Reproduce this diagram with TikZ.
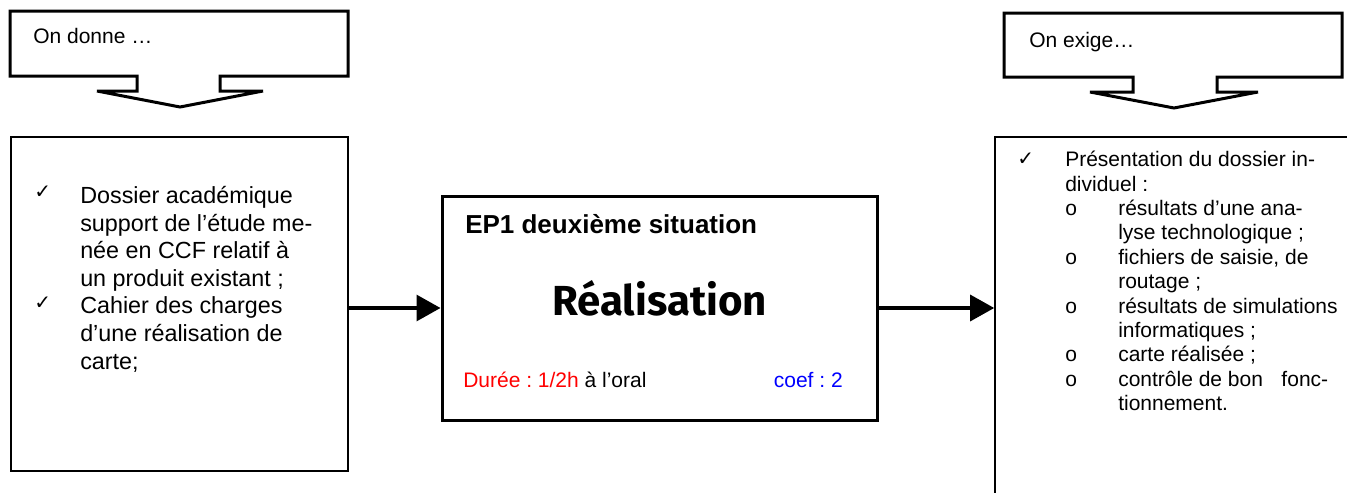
\documentclass[tikz,border=0pt]{standalone}
\usepackage{fontspec}
\setmainfont{Liberation Sans}
\newfontfamily\checkfont{DejaVu Sans}
\newfontfamily\titlefont{Fira Sans}
\usetikzlibrary{arrows.meta}
\frenchspacing

\begin{document}
\begin{tikzpicture}[x=0.75pt,y=-0.75pt,
  heavy/.style={draw, line width=2.25pt, line join=miter},
  thinbox/.style={draw, line width=1.2pt, inner sep=0pt},
  conn/.style={line width=2.4pt, -{Triangle[length=18pt,width=19.5pt]}},
  txt/.style={anchor=base west, inner sep=0pt},
  givetext/.style={txt, font=\fontsize{17.5}{21}\selectfont},
  reqtext/.style={txt, font=\fontsize{15.75}{18}\selectfont},
  tick/.style={txt, font=\checkfont\fontsize{15}{16}\selectfont}]

\clip (0,0) rectangle (1347,493);
\fill[white] (0,0) rectangle (1347,493);

% ---- callout "On donne" ----
\draw[heavy] (10,11) -- (348,11) -- (348,76) -- (220,76) -- (220,91) -- (263,91)
  -- (180,107) -- (97,91) -- (137,91) -- (137,76) -- (10,76) -- cycle;
\node[txt, font=\fontsize{15.75}{18}\selectfont] (give) at (33,43) {On donne …};

% ---- callout "On exige" ----
\draw[heavy] (1004,13) -- (1342,13) -- (1342,77) -- (1217,77) -- (1217,92) -- (1258,92)
  -- (1174,108) -- (1090,92) -- (1133,92) -- (1133,77) -- (1004,77) -- cycle;
\node[txt, font=\fontsize{15.75}{18}\selectfont] (req) at (1029,47) {On exige…};

% ---- boxes ----
\node[thinbox, minimum width=252.75pt, minimum height=250.5pt] (lb) at (179.5,304) {};
\node[heavy, inner sep=0pt, minimum width=326.25pt, minimum height=168pt] (cb) at (659.5,308) {};
\node[thinbox, minimum width=273.75pt, minimum height=279.75pt] (rb) at (1177.5,323.5) {};

% ---- connectors ----
\draw[conn] (lb.east |- cb.west) -- (cb.west);
\draw[conn] (cb.east) -- (rb.west |- cb.east);

% ---- given items ----
\node[tick] (g1) at (34,198) {✓};
\node[givetext] (l1) at (80,203) {Dossier académique};
\node[givetext] (l2) at (80,231) {support de l’étude me-};
\node[givetext] (l3) at (80,258) {née en CCF relatif à};
\node[givetext] (l4) at (80,286) {un produit existant ;};
\node[tick] (g2) at (34,309) {✓};
\node[givetext] (l5) at (80,313) {Cahier des charges};
\node[givetext] (l6) at (80,341) {d’une réalisation de};
\node[givetext] (l7) at (80,369) {carte;};

% ---- central block ----
\node[txt, font=\bfseries\fontsize{19.5}{22}\selectfont] (ep) at (465,233) {EP1 deuxième situation};
\node[anchor=base, inner sep=0pt, font=\titlefont\bfseries\fontsize{31.5}{32}\selectfont] (title) at (659.5,315) {Réalisation};
\node[txt, font=\fontsize{15.75}{18}\selectfont] (dur) at (463,387) {\textcolor{red}{Durée : 1/2h} à l’oral};
\node[anchor=base east, inner sep=0pt, text=blue, font=\fontsize{15.75}{18}\selectfont] (coef) at (843,387) {coef : 2};

% ---- required items ----
\node[tick] (r0) at (1017,165) {✓};
\node[reqtext] (r1) at (1065,166.7) {Présentation du dossier in-};
\node[reqtext] (r2) at (1065,191.1) {dividuel :};
\node[reqtext] (b1) at (1065,215.5) {o};
\node[reqtext] (r3) at (1118,215.5) {résultats d’une ana-};
\node[reqtext] (r4) at (1118,239.9) {lyse technologique ;};
\node[reqtext] (b2) at (1065,264.3) {o};
\node[reqtext] (r5) at (1118,264.3) {fichiers de saisie, de};
\node[reqtext] (r6) at (1118,288.7) {routage ;};
\node[reqtext] (b3) at (1065,313.1) {o};
\node[reqtext] (r7) at (1118,313.1) {résultats de simulations};
\node[reqtext] (r8) at (1118,337.5) {informatiques ;};
\node[reqtext] (b4) at (1065,361.9) {o};
\node[reqtext] (r9) at (1118,361.9) {carte réalisée ;};
\node[reqtext] (b5) at (1065,386.3) {o};
\node[reqtext] (r10) at (1118,386.3) {contrôle de bon\hspace{0.88em}fonc-};
\node[reqtext] (r11) at (1118,410.7) {tionnement.};
\end{tikzpicture}
\end{document}
